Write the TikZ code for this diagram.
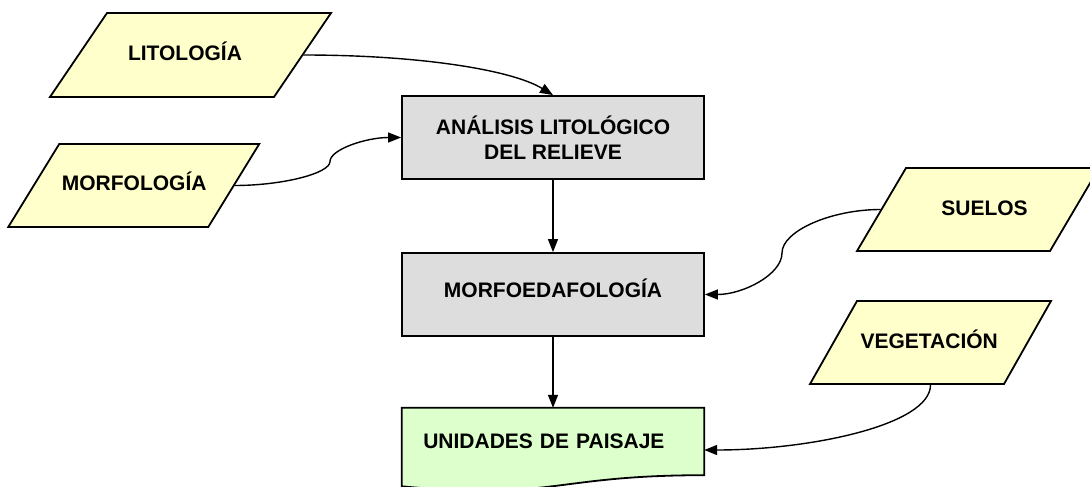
\documentclass[tikz,border=0pt]{standalone}
\usepackage{fontspec}
\setmainfont{Liberation Sans}
\usetikzlibrary{arrows.meta,calc,backgrounds}
\definecolor{paraY}{HTML}{FFFFCC}
\definecolor{boxG}{HTML}{DDDDDD}
\definecolor{docG}{HTML}{DDFFCC}
\begin{document}
\begin{tikzpicture}[x=1pt,y=-1pt,
  lbl/.style={font=\fontsize{21}{25}\selectfont\bfseries, inner sep=0pt, text height=15pt, text depth=0pt},
  para/.style={draw=black, fill=paraY, line width=1.8pt, transform shape, inner sep=0pt},
  procbox/.style={draw=black, fill=boxG, line width=1.8pt, minimum width=302pt, minimum height=83pt,
    inner sep=0pt, align=center, font=\fontsize{21}{25}\selectfont\bfseries},
  docbox/.style={minimum width=302pt, minimum height=84pt, inner xsep=21.3pt, inner ysep=0pt,
    text width=259.4pt, align=left, text height=15pt, text depth=18.6pt,
    font=\fontsize{21}{25}\selectfont\bfseries},
  conn/.style={line width=1.4pt, -{Triangle[length=13pt,width=10pt]}}
]
\useasboundingbox (0,0) rectangle (1090,487);

% input parallelograms
\node[para, xslant=0.679, minimum width=224pt, minimum height=84pt] (lit) at (190.5,55) {};
\node[lbl] (litT) at (185,53.3) {LITOLOGÍA};

\node[para, xslant=0.614, minimum width=200pt, minimum height=83pt] (morf) at (133.75,185.5) {};
\node[lbl] (morfT) at (134.2,183.3) {MORFOLOGÍA};

\node[para, xslant=0.59, minimum width=193pt, minimum height=83pt] (suel) at (978,209.5) {};
\node[lbl] (suelT) at (984.5,207.5) {SUELOS};

\node[para, xslant=0.566, minimum width=194pt, minimum height=83pt] (veg) at (930.5,342.5) {};
\node[lbl] (vegT) at (929.2,340.7) {VEGETACIÓN};

% process boxes
\node[procbox] (ana) at (553,137.5) {ANÁLISIS LITOLÓGICO\\DEL RELIEVE};
\node[procbox, text depth=13pt] (mofe) at (553,294.5) {MORFOEDAFOLOGÍA};

% document shape
\node[docbox] (uni) at (553,450) {UNIDADES DE PAISAJE};
\begin{scope}[on background layer]
\draw[line width=1.8pt, fill=docG] (uni.north west) -- (uni.north east)
  -- ($(uni.north east)+(0,67.4)$)
  .. controls ($(uni.north)+(0,67.4)$) and ($(uni.north)+(0,93)$) .. ($(uni.north west)+(0,78.5)$)
  -- cycle;
\end{scope}

% connectors
\draw[conn] (lit.east) .. controls (420,55) and (512,70) .. (ana.north);
\draw[conn] (morf.east) .. controls (282,185.5) and (330,173.5) .. (330,161.5)
  .. controls (330,149.5) and (366,137.5) .. (ana.west);
\draw[conn] (suel.west) .. controls (831,209.5) and (782,231) .. (782,253)
  .. controls (782,274.5) and (743,294.5) .. (mofe.east);
\draw[conn] (veg.center |- veg.south) .. controls (930.5,425) and (810,450) .. (uni.east);
\draw[conn] (ana) -- (mofe);
\draw[conn] (mofe) -- (uni);
\end{tikzpicture}
\end{document}
